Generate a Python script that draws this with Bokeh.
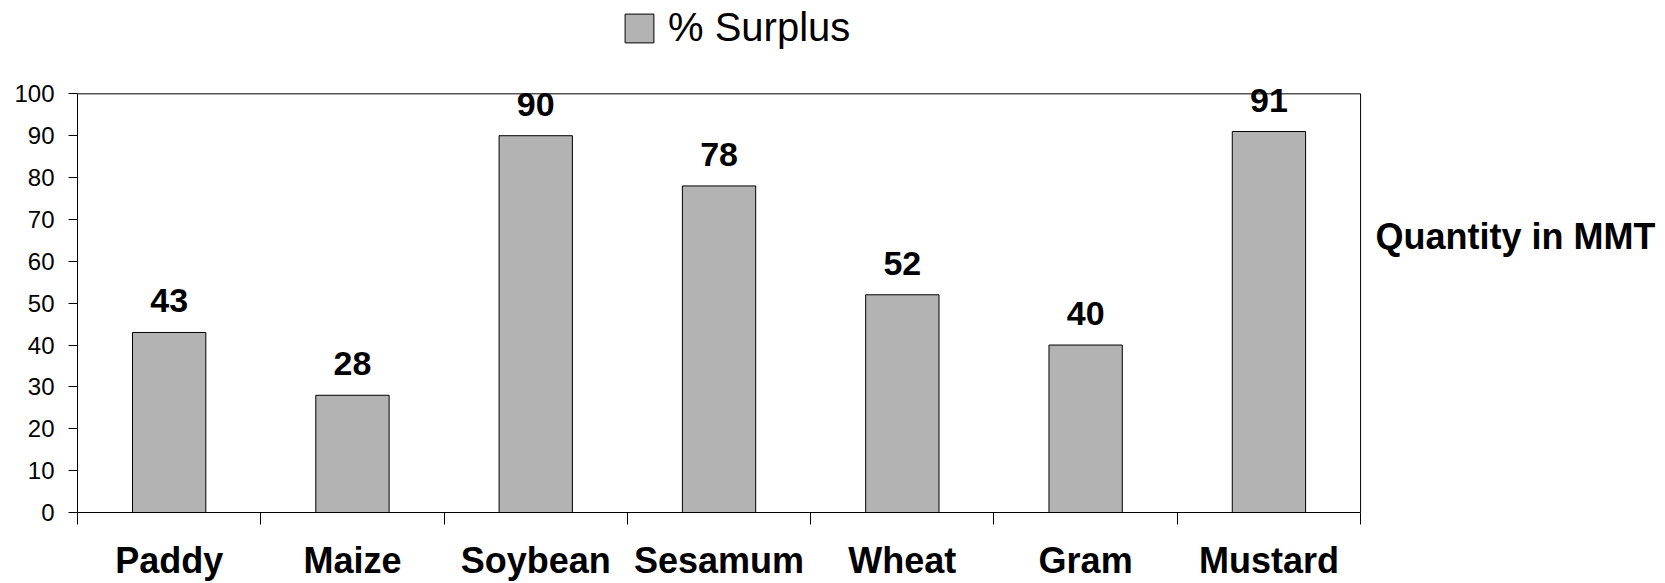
from bokeh.plotting import figure
from bokeh.models import (ColumnDataSource, FixedTicker, LabelSet, Label, Legend,
                          LegendItem, Range1d)
from bokeh.core.properties import value
from bokeh.embed import file_html
from bokeh.resources import INLINE

categories = ["Paddy", "Maize", "Soybean", "Sesamum", "Wheat", "Gram", "Mustard"]
surplus = [43, 28, 90, 78, 52, 40, 91]
y_ticks = [0, 10, 20, 30, 40, 50, 60, 70, 80, 90, 100]
series_name = "% Surplus"
side_text = "Quantity in MMT"

n = len(categories)
ymax = y_ticks[-1]
xs = [i + 0.5 for i in range(n)]
source = ColumnDataSource(dict(x=xs, top=surplus, cat=categories,
                               lbl=[str(v) for v in surplus]))

# frame extends above / right of the plot box so texts there are not clipped
p = figure(width=1660, height=583, output_backend="svg", toolbar_location=None,
           x_range=Range1d(0, 8.609), y_range=Range1d(0, 121.1),
           min_border_left=77, min_border_right=5, min_border_top=5,
           min_border_bottom=71)
p.background_fill_color = "white"
p.border_fill_color = "white"
p.outline_line_color = None
p.xgrid.visible = False
p.ygrid.visible = False

# plot-area box: top and right edges
p.segment(x0=[0, n], y0=[ymax, 0], x1=[n, n], y1=[ymax, ymax],
          line_color="black", line_width=1)

bars = p.vbar(x="x", top="top", bottom=0, width=0.4, source=source,
              fill_color="#B3B3B3", line_color="black", line_width=1)

# x axis: labels at centers, ticks at category boundaries (minor ticks)
xa = p.xaxis[0]
xa.bounds = (0, n)
xa.ticker = FixedTicker(ticks=xs, minor_ticks=list(range(n + 1)))
xa.major_label_overrides = {x: c for x, c in zip(xs, categories)}
xa.major_tick_out = 0
xa.major_tick_in = 0
xa.minor_tick_out = 12
xa.minor_tick_in = 0
xa.minor_tick_line_color = "black"
xa.axis_line_color = "black"
xa.major_label_standoff = 15
xa.major_label_text_font = "Liberation Sans"
xa.major_label_text_font_style = "bold"
xa.major_label_text_font_size = "36px"
xa.major_label_text_color = "black"

ya = p.yaxis[0]
ya.bounds = (0, ymax)
ya.ticker = FixedTicker(ticks=y_ticks, minor_ticks=[])
ya.major_tick_out = 9
ya.major_tick_in = 0
ya.major_tick_line_color = "black"
ya.axis_line_color = "black"
ya.major_label_standoff = 14
ya.major_label_text_font = "Liberation Sans"
ya.major_label_text_font_size = "24px"
ya.major_label_text_color = "black"

labels = LabelSet(x="x", y="top", text="lbl", source=source, y_offset=20,
                  text_align="center", text_baseline="alphabetic",
                  text_font=value("Liberation Sans"), text_font_style="bold",
                  text_font_size="34px", text_color="black")
p.add_layout(labels)

side = Label(x=1298, y=276, x_units="screen", y_units="screen", text=side_text,
             text_font="Liberation Sans", text_font_style="bold",
             text_font_size="36px", text_color="black",
             text_baseline="alphabetic", text_align="left")
p.add_layout(side)

legend = Legend(items=[LegendItem(label=series_name, renderers=[bars])],
                location=(544, 462), orientation="horizontal")
legend.padding = 0
legend.margin = 0
legend.spacing = 0
legend.border_line_alpha = 0
legend.background_fill_alpha = 0
legend.glyph_width = 36
legend.glyph_height = 36
legend.label_standoff = 11
legend.label_text_font = "Liberation Sans"
legend.label_text_font_size = "40px"
legend.label_text_color = "black"
p.add_layout(legend)

open("out.html", "w").write(file_html(p, INLINE))
